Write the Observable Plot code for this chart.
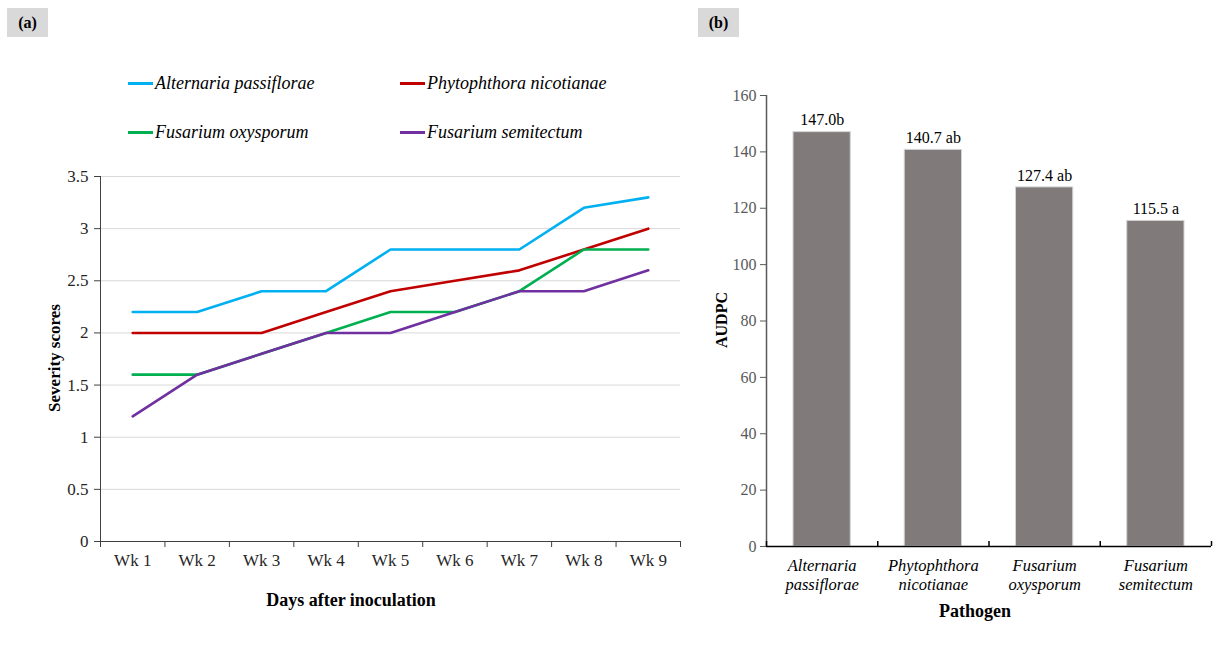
<!DOCTYPE html>
<html>
<head>
<meta charset="utf-8">
<script src="https://cdn.jsdelivr.net/npm/d3@7"></script>
<script src="https://cdn.jsdelivr.net/npm/@observablehq/plot@0.6"></script>
<style>
  body { margin: 0; background: #fff; }
  #wrap { position: relative; width: 1225px; height: 667px; background: #fff; font-family: "Liberation Serif", "Times New Roman", serif; color: #000; }
  .abs { position: absolute; }
  .panel-tag { position: absolute; width: 41px; height: 29px; background: #d9d9d9; font-weight: bold; font-size: 16px; line-height: 29px; text-align: center; }
  .leg-item { position: absolute; height: 20px; font-style: italic; font-size: 18px; line-height: 20px; white-space: nowrap; }
  .leg-item span.sw { display: inline-block; width: 25px; height: 3px; vertical-align: middle; margin-right: 2px; position: relative; top: -1px; }
  .title { position: absolute; font-weight: bold; font-size: 18px; white-space: nowrap; transform: translate(-50%, -50%); }
  .rot { transform: translate(-50%, -50%) rotate(-90deg); }
</style>
</head>
<body>
<div id="wrap">
  <div class="panel-tag" style="left:7px;top:8px;">(a)</div>
  <div class="panel-tag" style="left:698px;top:8px;">(b)</div>
  <div id="legend"></div>
  <div id="chartA" class="abs" style="left:0;top:150px;"></div>
  <div id="chartB" class="abs" style="left:690px;top:60px;"></div>
  <div class="title rot" style="left:55px;top:358px;font-size:17px;">Severity scores</div>
  <div class="title" style="left:351px;top:600px;">Days after inoculation</div>
  <div class="title rot" style="left:722px;top:320px;font-size:16px;">AUDPC</div>
  <div class="title" style="left:975px;top:611px;">Pathogen</div>
</div>
<script>
// ---- Data: panel (a) ----
const weeks = ["Wk 1", "Wk 2", "Wk 3", "Wk 4", "Wk 5", "Wk 6", "Wk 7", "Wk 8", "Wk 9"];
const seriesNames = ["Alternaria passiflorae", "Phytophthora nicotianae", "Fusarium oxysporum", "Fusarium semitectum"];
const seriesColors = ["#00b0f0", "#c00000", "#00b050", "#7030a0"];
const alternaria = [2.2, 2.2, 2.4, 2.4, 2.8, 2.8, 2.8, 3.2, 3.3];
const phytophthora = [2.0, 2.0, 2.0, 2.2, 2.4, 2.5, 2.6, 2.8, 3.0];
const oxysporum = [1.6, 1.6, 1.8, 2.0, 2.2, 2.2, 2.4, 2.8, 2.8];
const semitectum = [1.2, 1.6, 1.8, 2.0, 2.0, 2.2, 2.4, 2.4, 2.6];
const severityTicks = [0, 0.5, 1, 1.5, 2, 2.5, 3, 3.5];

// ---- Data: panel (b) ----
const pathogens = ["Alternaria\npassiflorae", "Phytophthora\nnicotianae", "Fusarium\noxysporum", "Fusarium\nsemitectum"];
const audpc = [147.0, 140.7, 127.4, 115.5];
const audpcLabels = ["147.0b", "140.7 ab", "127.4 ab", "115.5 a"];
const audpcTicks = [0, 20, 40, 60, 80, 100, 120, 140, 160];

// ---- Legend (HTML) ----
const legendPos = [[128, 73], [400, 73], [128, 122], [400, 122]];
const legend = document.getElementById("legend");
seriesNames.forEach((n, i) => {
  const d = document.createElement("div");
  d.className = "leg-item";
  d.style.left = legendPos[i][0] + "px";
  d.style.top = legendPos[i][1] + "px";
  d.innerHTML = `<span class="sw" style="background:${seriesColors[i]}"></span>${n}`;
  legend.appendChild(d);
});

// ---- Panel (a) ----
const allSeries = [alternaria, phytophthora, oxysporum, semitectum];
const lineData = [];
allSeries.forEach((vals, s) => vals.forEach((v, i) => lineData.push({series: seriesNames[s], week: i + 1, value: v})));
const weekIdx = weeks.map((w, i) => i + 1);
const weekBounds = d3.range(0, weeks.length + 1).map(i => i + 0.5);

const chartA = Plot.plot({
  width: 700, height: 470,
  marginLeft: 100, marginRight: 20, marginTop: 26, marginBottom: 79,
  x: {type: "linear", domain: [0.5, weeks.length + 0.5]},
  y: {domain: [0, 3.5]},
  color: {domain: seriesNames, range: seriesColors},
  style: {fontFamily: "Liberation Serif, Times New Roman, serif", fontSize: "17px", background: "transparent"},
  marks: [
    Plot.gridY(severityTicks.filter(d => d > 0), {stroke: "#d9d9d9", strokeOpacity: 1}),
    Plot.axisY(severityTicks, {tickSize: 6, tickPadding: 6, label: null, tickFormat: d => String(d), stroke: "#404040", fill: "#262626"}),
    Plot.axisX(weekBounds, {tickSize: 6, tickFormat: () => "", label: null, stroke: "#404040"}),
    Plot.axisX(weekIdx, {tickSize: 0, tickPadding: 12, tickFormat: i => weeks[i - 1], label: null, fill: "#262626"}),
    Plot.ruleX([0.5], {stroke: "#404040"}),
    Plot.ruleY([0], {stroke: "#404040"}),
    Plot.line(lineData, {x: "week", y: "value", z: "series", stroke: "series", strokeWidth: 2.6, strokeLinejoin: "round", strokeLinecap: "round"})
  ]
});
document.getElementById("chartA").appendChild(chartA);

// ---- Panel (b) ----
const barData = pathogens.map((p, i) => ({name: p, idx: i, value: audpc[i], label: audpcLabels[i]}));
const catCenters = pathogens.map((p, i) => i + 0.5);
const catBounds = d3.range(0, pathogens.length + 1);

const chartB = Plot.plot({
  width: 535, height: 570,
  marginLeft: 76, marginRight: 14, marginTop: 35, marginBottom: 84,
  x: {type: "linear", domain: [0, pathogens.length]},
  y: {domain: [0, 160]},
  style: {fontFamily: "Liberation Serif, Times New Roman, serif", fontSize: "16px", background: "transparent"},
  marks: [
    Plot.rectY(barData, {x1: "idx", x2: d => d.idx + 1, y: "value", insetLeft: 27, insetRight: 27, fill: "#807b7a", stroke: "#d4d4d4", strokeWidth: 1}),
    Plot.axisY(audpcTicks, {tickSize: 6, tickPadding: 4, label: null, stroke: "#595959", fill: "#595959"}),
    Plot.ruleX([0], {stroke: "#595959", strokeWidth: 1.5}),
    Plot.ruleY([0], {stroke: "#000", strokeWidth: 1.5}),
    Plot.tickX(catBounds, {x: d => d, insetTop: 451 - 5, stroke: "#000", strokeWidth: 1.5}),
    Plot.axisX(catCenters, {tickSize: 0, tickPadding: 10, tickFormat: (d, i) => pathogens[i], label: null, fontStyle: "italic", fontSize: 16.5, lineHeight: 1.2, fill: "#000"}),
    Plot.text(barData, {x: d => d.idx + 0.5, y: "value", text: "label", dy: -12, fill: "#000", fontSize: 16})
  ]
});
document.getElementById("chartB").appendChild(chartB);
</script>
</body>
</html>
